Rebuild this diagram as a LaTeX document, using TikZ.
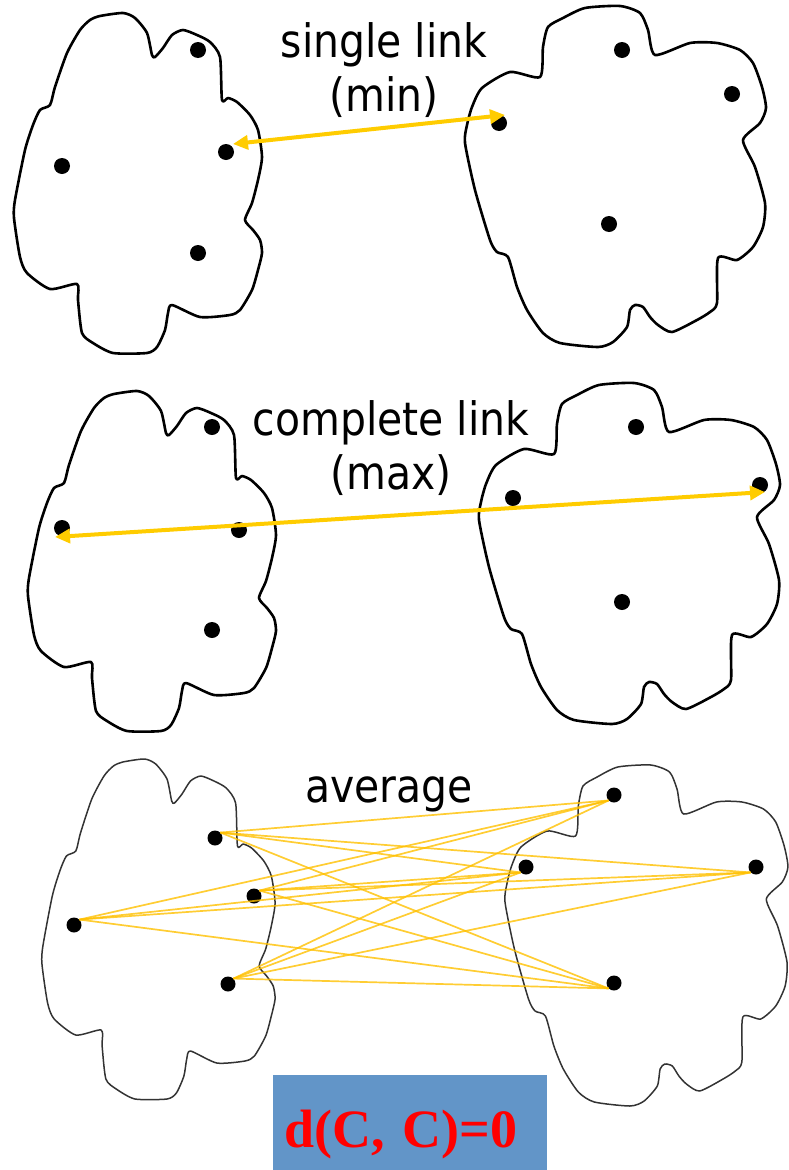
\documentclass[tikz,border=0pt]{standalone}
\usepackage{fontspec}
\newfontfamily\labelfont[FakeStretch=0.89]{DejaVu Sans}
\newfontfamily\boxfont{Liberation Serif}
\usetikzlibrary{arrows.meta}
\definecolor{linkyellow}{RGB}{255,204,0}
\definecolor{avgyellow}{RGB}{255,192,0}
\definecolor{boxblue}{RGB}{98,149,200}
\tikzset{
    >={Triangle[length=15pt, width=14pt]}, % filled heads on the links
    point/.style={circle, fill, inner sep=0pt, minimum size=16pt},
    blob/.style={line width=2.6pt, color=black, line join=round},
    thinblob/.style={line width=1.5pt, color=black!80, line join=round},
    link/.style={<->, line width=4pt, draw=linkyellow},
    avg/.style={line width=1.7pt, draw=avgyellow, opacity=0.8},
    caption/.style={font=\labelfont\fontsize{46}{54}\selectfont, align=center, inner sep=0pt},
    % outline of the cluster on the left
    leftcloud/.pic={
        \draw plot[smooth cycle, tension=0.4] coordinates {
            (100,16) (123,13) (135,18) (147,33) (152,55) (155,57) (163,48) (172,35)
            (183,30) (197,35) (210,42) (220,57) (222,100) (228,98) (237,102) (250,115)
            (258,130) (262,157) (258,180) (252,203) (245,220) (253,230) (260,240) (262,253)
            (258,270) (252,290) (240,310) (230,315) (200,317) (172,305) (168,313) (165,330)
            (157,347) (147,353) (113,353) (93,343) (82,333) (78,300) (77,284) (50,289)
            (27,273) (20,257) (14,218) (15,200) (25,150) (33,125) (40,110) (50,105)
            (55,87) (67,53) (80,30) (90,20)};
    },
    % outline of the cluster on the right
    rightcloud/.pic={
        \draw plot[smooth cycle, tension=0.4] coordinates {
            (585,8) (620,6) (640,13) (648,30) (655,55) (690,43) (717,43) (740,50)
            (753,63) (762,87) (766,108) (760,123) (743,140) (755,167) (765,203) (763,227)
            (753,247) (737,260) (718,258) (717,303) (710,312) (697,320) (672,332) (658,325)
            (650,317) (643,307) (635,305) (630,310) (627,327) (613,342) (598,347) (560,343)
            (543,333) (527,310) (517,287) (508,257) (497,252) (490,240) (475,190) (465,143)
            (467,125) (472,107) (482,88) (510,72) (540,77) (543,47) (548,27) (563,18)};
    }
}

\begin{document}
\begin{tikzpicture}[x=1pt, y=-1pt]
    \useasboundingbox (0,0) rectangle (788,1170);

    % single link
    \pic[blob] at (0,0) {leftcloud};
    \pic[blob] at (0,0) {rightcloud};
    \node[point] (a1) at (198,50) {};
    \node[point] (a2) at (226,152) {};
    \node[point] (a3) at (62,166) {};
    \node[point] (a4) at (198,253) {};
    \node[point] (b1) at (622,50) {};
    \node[point] (b2) at (732,94) {};
    \node[point] (b3) at (499,123) {};
    \node[point] (b4) at (609,224) {};
    \node[caption, anchor=north] (single) at (384,22) {single link\\(min)};
    \draw[link] ([shift={(7,-8)}]a2.center) -- ([shift={(6,-8)}]b3.center);

    % complete link
    \pic[blob] at (14,378) {leftcloud};
    \pic[blob] at (14,377) {rightcloud};
    \node[point] (c1) at (212,427) {};
    \node[point] (c2) at (239,530) {};
    \node[point] (c3) at (62,528) {};
    \node[point] (c4) at (212,630) {};
    \node[point] (d1) at (636,427) {};
    \node[point] (d2) at (760,485) {};
    \node[point] (d3) at (513,498) {};
    \node[point] (d4) at (622,602) {};
    \node[caption, anchor=north] (complete) at (391,400) {complete link\\(max)};
    \draw[link] ([shift={(-7,9)}]c3.center) -- ([shift={(5,7)}]d2.center);

    % average
    \pic[thinblob, xscale=0.94] at (28.8,746) {leftcloud};
    \pic[thinblob, xscale=0.94] at (67.9,759) {rightcloud};
    \node[point, minimum size=15pt] (e1) at (215,838) {};
    \node[point, minimum size=15pt] (e2) at (254,896) {};
    \node[point, minimum size=15pt] (e3) at (74,925) {};
    \node[point, minimum size=15pt] (e4) at (228,984) {};
    \node[point, minimum size=15pt] (f1) at (614,795) {};
    \node[point, minimum size=15pt] (f2) at (526,867) {};
    \node[point, minimum size=15pt] (f3) at (756,867) {};
    \node[point, minimum size=15pt] (f4) at (614,983) {};
    \node[caption, anchor=base] (average) at (389,802) {average};
    \foreach \i in {1,...,4}
        \foreach \j in {1,...,4}
            \draw[avg] (e\i.north east) -- (f\j.south west);

    \node[anchor=north west, fill=boxblue, minimum width=274pt, minimum height=95pt,
          text width=252pt, align=left, inner xsep=11pt, inner ysep=0pt,
          text height=49pt, text depth=0pt, text=red,
          font=\boxfont\bfseries\fontsize{54}{60}\selectfont] (dist) at (273,1075) {d(C, C)=0};
\end{tikzpicture}
\end{document}
